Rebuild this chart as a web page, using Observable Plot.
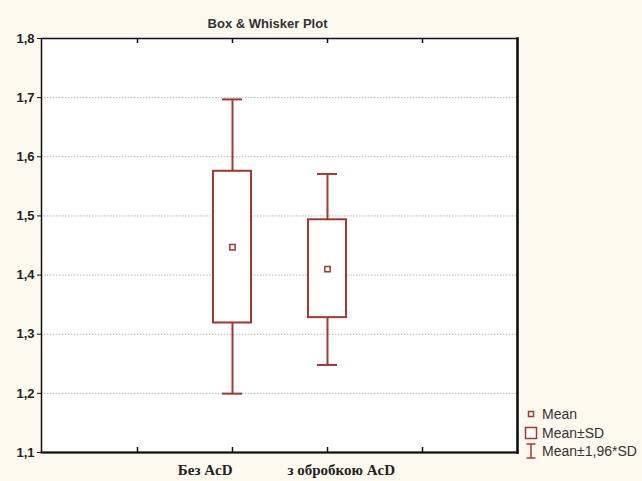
<!DOCTYPE html>
<html>
<head>
<meta charset="utf-8">
<script src="https://cdn.jsdelivr.net/npm/d3@7"></script>
<script src="https://cdn.jsdelivr.net/npm/@observablehq/plot@0.6"></script>
<style>
  html, body { margin: 0; padding: 0; background: #fdf9ef; }
  #chart { width: 642px; height: 481px; }
</style>
</head>
<body>
<div id="chart"></div>
<script>
const categories = ["Без AcD", "з обробкою AcD"];
const means = [1.447, 1.410];
const sdLow = [1.319, 1.328];
const sdHigh = [1.5755, 1.4935];
const ciLow = [1.1995, 1.248];
const ciHigh = [1.697, 1.571];
const yTicks = [1.1, 1.2, 1.3, 1.4, 1.5, 1.6, 1.7, 1.8];
const gridLines = [1.2, 1.3, 1.4, 1.5, 1.6, 1.7];
const legendLabels = ["Mean", "Mean±SD", "Mean±1,96*SD"];
const title = "Box & Whisker Plot";

const slots = ["_a", ...categories, "_b"];
const data = categories.map((c, i) => ({
  cat: c, mean: means[i], sdLow: sdLow[i], sdHigh: sdHigh[i], ciLow: ciLow[i], ciHigh: ciHigh[i]
}));

const red = "#a03a2d";
const W = 642, H = 481, mL = 41, mR = 125, mT = 38, mB = 29;
const plotH = H - mT - mB;

const chart = Plot.plot({
  width: W, height: H,
  marginLeft: mL, marginRight: mR, marginTop: mT, marginBottom: mB,
  style: { background: "transparent", fontFamily: "Liberation Sans, Arial, sans-serif" },
  x: { type: "band", domain: slots, paddingInner: 0.6, paddingOuter: 0.8, axis: null },
  y: { domain: [1.1, 1.8], axis: null },
  marks: [
    Plot.frame({ fill: "white", stroke: "none" }),
    Plot.ruleY(gridLines, { stroke: "#b5b5b5", strokeDasharray: "1.5,1.5", strokeWidth: 1 }),
    // whiskers
    Plot.ruleX(data, { x: "cat", y1: "ciLow", y2: "sdLow", stroke: red, strokeWidth: 2 }),
    Plot.ruleX(data, { x: "cat", y1: "sdHigh", y2: "ciHigh", stroke: red, strokeWidth: 2 }),
    Plot.tickY(data, { x: "cat", y: "ciLow", stroke: red, strokeWidth: 2, insetLeft: 9, insetRight: 9 }),
    Plot.tickY(data, { x: "cat", y: "ciHigh", stroke: red, strokeWidth: 2, insetLeft: 9, insetRight: 9 }),
    // boxes
    Plot.rectY(data, { x: "cat", y1: "sdLow", y2: "sdHigh", fill: "white", stroke: red, strokeWidth: 2 }),
    // mean
    Plot.dot(data, { x: "cat", y: "mean", symbol: "square", r: 3, stroke: red, strokeWidth: 1.5, fill: "white" }),
    // y axis
    Plot.axisY({
      ticks: yTicks, tickSize: 4, tickPadding: 3, stroke: "#111",
      tickFormat: d => d.toFixed(1).replace(".", ","),
      fontSize: 13, fontWeight: "bold", fill: "#222", label: null
    }),
    // inner ticks on top and bottom
    Plot.ruleX(slots, { x: d => d, stroke: "#111", strokeWidth: 1.5, insetTop: plotH - 5 }),
    Plot.ruleX(slots, { x: d => d, stroke: "#111", strokeWidth: 1.5, insetBottom: plotH - 5 }),
    Plot.frame({ stroke: "#111", strokeWidth: 1.5 }),
    // heavier right/bottom border
    Plot.frame({ anchor: "right", stroke: "#111", strokeWidth: 2.5 }),
    Plot.frame({ anchor: "bottom", stroke: "#111", strokeWidth: 2 }),
    // x labels
    Plot.text([categories[0]], { x: d => d, frameAnchor: "bottom", dy: 22, textAnchor: "end",
      fontFamily: "Liberation Serif, Times New Roman, serif", fontSize: 15, fontWeight: "bold", fill: "#222" }),
    Plot.text([categories[1]], { x: d => d, frameAnchor: "bottom", dy: 22, dx: -40, textAnchor: "start",
      fontFamily: "Liberation Serif, Times New Roman, serif", fontSize: 15, fontWeight: "bold", fill: "#222" }),
    // title
    Plot.text([title], { frameAnchor: "top", dy: -20, dx: -12, fontSize: 13, fontWeight: "bold", fill: "#333" })
  ]
});

// legend
const svg = d3.select(chart);
const lg = svg.append("g").attr("font-family", "Liberation Sans, Arial, sans-serif")
  .attr("font-size", 14).attr("fill", "#333").attr("text-anchor", "start");
const lx = 531;
const rows = [414, 433, 451];
// mean marker
lg.append("rect").attr("x", lx - 2.5).attr("y", rows[0] - 2.5).attr("width", 5).attr("height", 5)
  .attr("fill", "white").attr("stroke", red).attr("stroke-width", 1.5);
// sd box
lg.append("rect").attr("x", lx - 5.5).attr("y", rows[1] - 5.5).attr("width", 11).attr("height", 11)
  .attr("fill", "white").attr("stroke", red).attr("stroke-width", 1.5);
// error bar
lg.append("line").attr("x1", lx).attr("x2", lx).attr("y1", rows[2] - 7).attr("y2", rows[2] + 7).attr("stroke", red).attr("stroke-width", 1.5);
lg.append("line").attr("x1", lx - 4.5).attr("x2", lx + 4.5).attr("y1", rows[2] - 7).attr("y2", rows[2] - 7).attr("stroke", red).attr("stroke-width", 1.5);
lg.append("line").attr("x1", lx - 4.5).attr("x2", lx + 4.5).attr("y1", rows[2] + 7).attr("y2", rows[2] + 7).attr("stroke", red).attr("stroke-width", 1.5);
legendLabels.forEach((t, i) => {
  lg.append("text").attr("x", 542).attr("y", rows[i]).attr("dy", "0.35em").text(t);
});

document.getElementById("chart").appendChild(chart);
</script>
</body>
</html>
